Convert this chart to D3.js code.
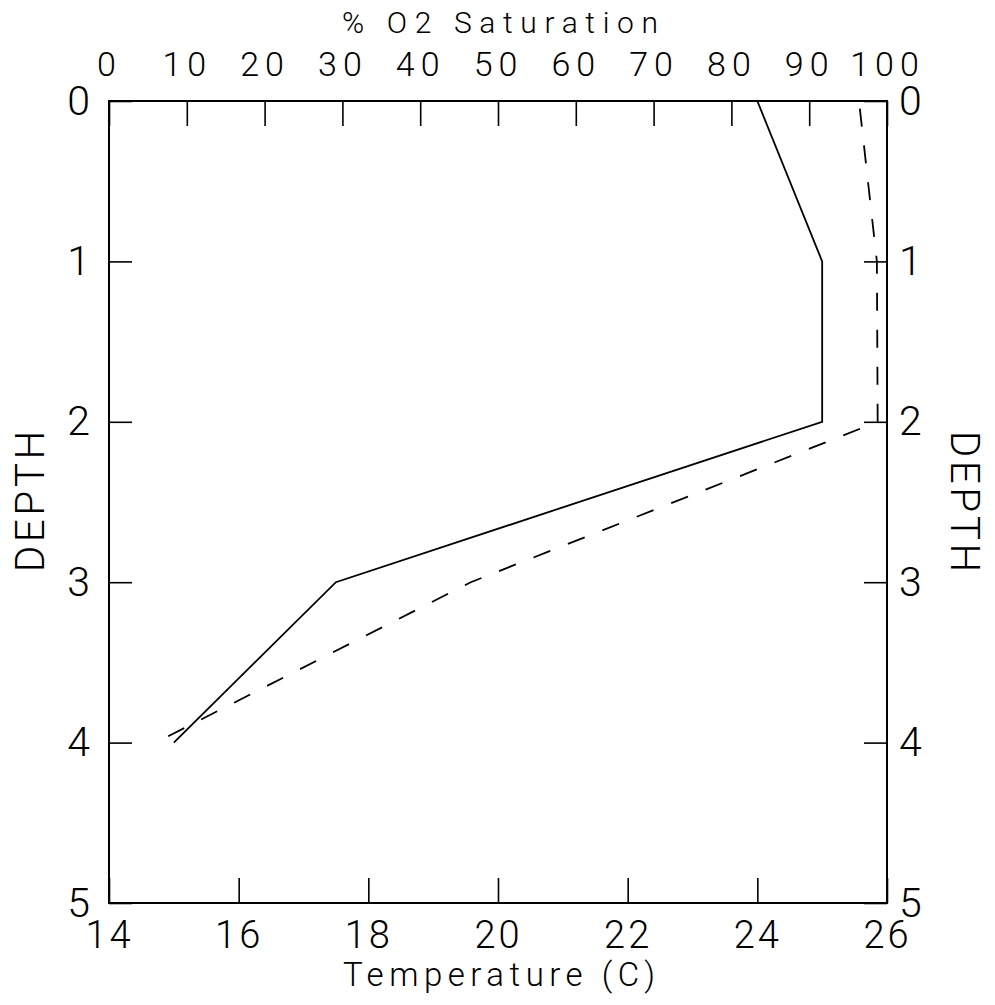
<!DOCTYPE html>
<html>
<head>
<meta charset="utf-8">
<script src="https://cdn.jsdelivr.net/npm/d3@7"></script>
<style>
  body { margin: 0; background: #fff; }
  svg text { font-family: Roboto, "Liberation Sans", sans-serif; font-weight: 300; fill: #000; }
</style>
</head>
<body>
<div id="chart"></div>
<script>
// depth profile, values
const depths = [0, 1, 2, 3, 4];
const temperature = [24, 25, 25, 17.5, 15];
const o2Saturation = [96.4, 98.7, 98.8, 46.5, 6];

const tempTicks = [14, 16, 18, 20, 22, 24, 26];
const o2Ticks = [0, 10, 20, 30, 40, 50, 60, 70, 80, 90, 100];
const depthTicks = [0, 1, 2, 3, 4, 5];

const width = 995, height = 1005;
const plotLeft = 109, plotRight = 887, plotTop = 101, plotBottom = 903;

const svg = d3.select('#chart')
  .append('svg')
  .attr('width', width)
  .attr('height', height);

const xTemp = d3.scaleLinear().domain([14, 26]).range([plotLeft, plotRight]);
const xO2 = d3.scaleLinear().domain([0, 100]).range([plotLeft, plotRight]);
const yDepth = d3.scaleLinear().domain([0, 5]).range([plotTop, plotBottom]);

// top axis: % O2
const topAxis = svg.append('g')
  .attr('transform', `translate(0,${plotTop})`)
  .call(d3.axisTop(xO2).tickValues(o2Ticks).tickSizeInner(-25).tickSizeOuter(0).tickPadding(25));
topAxis.selectAll('text')
  .attr('font-size', 34)
  .attr('letter-spacing', 6);

// bottom axis: temperature
const bottomAxis = svg.append('g')
  .attr('transform', `translate(0,${plotBottom})`)
  .call(d3.axisBottom(xTemp).tickValues(tempTicks).tickSizeInner(-25).tickSizeOuter(0).tickPadding(18));
bottomAxis.selectAll('text')
  .attr('font-size', 38)
  .attr('letter-spacing', 3);

// left axis: depth
const leftAxis = svg.append('g')
  .attr('transform', `translate(${plotLeft},0)`)
  .call(d3.axisLeft(yDepth).tickValues(depthTicks).tickFormat(d3.format('d'))
    .tickSizeInner(-23).tickSizeOuter(0).tickPadding(19));
leftAxis.selectAll('text')
  .attr('font-size', 41);

// right axis: depth
const rightAxis = svg.append('g')
  .attr('transform', `translate(${plotRight},0)`)
  .call(d3.axisRight(yDepth).tickValues(depthTicks).tickFormat(d3.format('d'))
    .tickSizeInner(-23).tickSizeOuter(0).tickPadding(12));
rightAxis.selectAll('text')
  .attr('font-size', 41);

svg.selectAll('.domain').remove();
svg.selectAll('.tick line').attr('stroke', '#000').attr('stroke-width', 1.6);

// frame
svg.append('rect')
  .attr('x', plotLeft)
  .attr('y', plotTop)
  .attr('width', plotRight - plotLeft)
  .attr('height', plotBottom - plotTop)
  .attr('fill', 'none')
  .attr('stroke', '#000')
  .attr('stroke-width', 2);

// temperature profile (solid)
const tempLine = d3.line()
  .x((d, i) => xTemp(temperature[i]))
  .y(d => yDepth(d));

svg.append('path')
  .datum(depths)
  .attr('d', tempLine)
  .attr('fill', 'none')
  .attr('stroke', '#000')
  .attr('stroke-width', 1.8);

// O2 profile (dashed)
const o2Line = d3.line()
  .x((d, i) => xO2(o2Saturation[i]))
  .y(d => yDepth(d));

const o2Path = svg.append('path')
  .datum(depths)
  .attr('d', o2Line)
  .attr('fill', 'none')
  .attr('stroke', '#000')
  .attr('stroke-width', 1.8)
  .attr('stroke-dasharray', '18,19');

// let the dashes finish in a gap at the deep end, like the original
const o2Len = o2Path.node().getTotalLength();
o2Path.attr('stroke-dashoffset', ((32 - o2Len % 37) % 37 + 37) % 37);

// axis titles
svg.append('text')
  .attr('x', 342)
  .attr('y', 33)
  .attr('font-size', 30)
  .attr('textLength', 316)
  .attr('lengthAdjust', 'spacing')
  .text('% O2 Saturation');

svg.append('text')
  .attr('x', 343)
  .attr('y', 986)
  .attr('font-size', 33)
  .attr('textLength', 312)
  .attr('lengthAdjust', 'spacing')
  .text('Temperature (C)');

svg.append('text')
  .attr('transform', 'translate(44,572) rotate(-90)')
  .attr('font-size', 40)
  .attr('textLength', 141)
  .attr('lengthAdjust', 'spacing')
  .text('DEPTH');

svg.append('text')
  .attr('transform', 'translate(951,431) rotate(90)')
  .attr('font-size', 40)
  .attr('textLength', 141)
  .attr('lengthAdjust', 'spacing')
  .text('DEPTH');
</script>
</body>
</html>
